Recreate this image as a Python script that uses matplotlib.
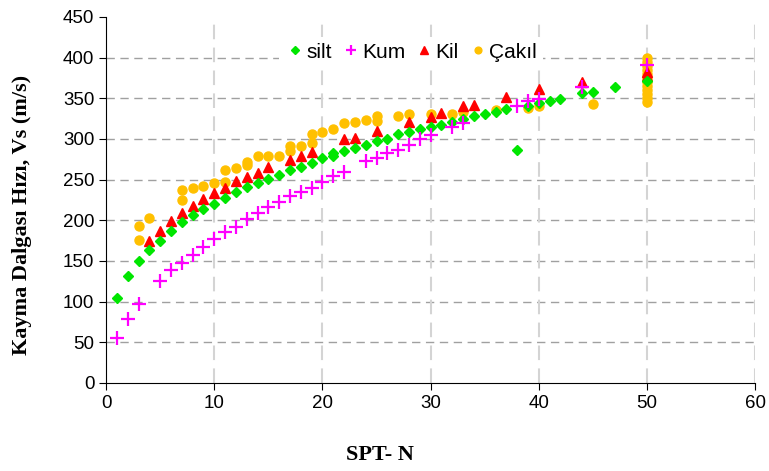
import numpy as np
import matplotlib.pyplot as plt

# silt
silt_x = [1, 2, 3, 4, 5, 6, 7, 8, 9, 10, 11, 12, 13, 14, 15, 16, 17, 18, 19, 20,
          21, 21, 22, 23, 24, 25, 26, 27, 28, 29, 30, 31, 32, 33, 34, 35, 36, 37,
          38, 39, 40, 41, 42, 44, 45, 47, 50]
silt_y = [105, 131, 150, 163, 175, 187, 198, 206, 214, 220, 227, 235, 241, 246, 251, 256,
          262, 266, 271, 276, 279, 283, 285, 289, 293, 297, 300, 306, 308, 312, 315, 317,
          321, 324, 328, 331, 333, 337, 286, 340, 344, 347, 349, 356, 358, 364, 371]

# Kum
kum_x = [1, 2, 3, 5, 6, 7, 8, 9, 10, 11, 12, 13, 14, 15, 16, 17, 18, 19, 20, 21, 22,
         24, 25, 26, 27, 28, 29, 30, 32, 33, 38, 39, 40, 44, 50]
kum_y = [55, 79, 97, 125, 139, 148, 157, 167, 177, 185, 192, 201, 209, 216, 223, 230,
         235, 240, 247, 254, 259, 273, 277, 283, 287, 293, 300, 305, 315, 320, 341, 347,
         349, 364, 391]

# Kil
kil_x = [4, 5, 6, 7, 8, 9, 10, 11, 12, 13, 14, 15, 17, 18, 19, 22, 23, 25, 28, 30,
         31, 33, 34, 37, 40, 44, 50, 50]
kil_y = [175, 187, 199, 209, 218, 226, 233, 240, 248, 253, 258, 266, 274, 279, 284, 300,
         301, 310, 321, 327, 332, 340, 342, 352, 362, 370, 382, 377]

# Çakıl
cakil_x = [3, 3, 4, 7, 7, 8, 9, 10, 11, 11, 12, 13, 13, 14, 15, 16, 17, 17, 18, 19, 19,
           20, 21, 22, 23, 24, 25, 25, 27, 28, 30, 32, 33, 36, 39, 40, 45,
           50, 50, 50, 50, 50, 50, 50, 50, 50, 50, 50, 50]
cakil_y = [176, 193, 203, 225, 237, 240, 242, 246, 247, 262, 264, 268, 272, 279, 279, 279,
           285, 291, 291, 295, 306, 309, 312, 319, 321, 323, 322, 328, 328, 331, 331, 331,
           333, 336, 338, 341, 343,
           345, 350, 355, 360, 365, 370, 375, 380, 385, 390, 395, 400]

plt.rcParams['font.family'] = ['Liberation Sans', 'DejaVu Sans']

fig, ax = plt.subplots(figsize=(7.69, 4.71), dpi=100)
fig.subplots_adjust(left=0.138, right=0.982, top=0.964, bottom=0.187)

ax.plot(silt_x, silt_y, 'D', color='#00e600', ms=5.5, mec='#00e600', ls='none', label='silt', zorder=3)
ax.plot(kum_x, kum_y, '+', color='#ff00ff', ms=10, mew=1.6, ls='none', label='Kum', zorder=4)
ax.plot(kil_x, kil_y, '^', color='#ff0000', ms=7, ls='none', label='Kil', zorder=2)
ax.plot(cakil_x, cakil_y, 'o', color='#ffc000', ms=6.5, ls='none', label='Çakıl', zorder=1)

ax.set_xlim(0, 60)
ax.set_ylim(0, 450)
ax.set_xticks(range(0, 61, 10))
ax.set_yticks(range(0, 451, 50))
ax.tick_params(labelsize=13.5, direction='out', length=5)

for v in range(50, 401, 50):
    ax.axhline(v, color='#a0a0a0', ls=(0, (6, 4)), lw=1, zorder=0)
for v in range(10, 61, 10):
    ax.axvline(v, color='#d4d4d4', ls=(0, (7, 4)), lw=1.5, zorder=0)

ax.spines['top'].set_visible(False)
ax.spines['right'].set_visible(False)

# axis titles placed relative to the figure, like the original
fig.text(0.494, 0.034, 'SPT- N', fontsize=16, fontweight='bold', family='Liberation Serif',
         ha='center', va='center')
fig.text(0.029, 0.544, 'Kayma Dalgası Hızı, Vs (m/s)', fontsize=16, fontweight='bold',
         family='Liberation Serif', rotation=90, ha='center', va='center')

leg = ax.legend(loc='upper center', bbox_to_anchor=(0.47, 0.975), ncol=4, frameon=True,
                fontsize=15, handletextpad=0.1, columnspacing=0.45, handlelength=0.9,
                markerscale=0.75, borderpad=0.3)
leg.get_frame().set_edgecolor('none')
leg.get_frame().set_facecolor('white')
leg.get_frame().set_alpha(1)

fig.savefig('out.png', dpi=100)
